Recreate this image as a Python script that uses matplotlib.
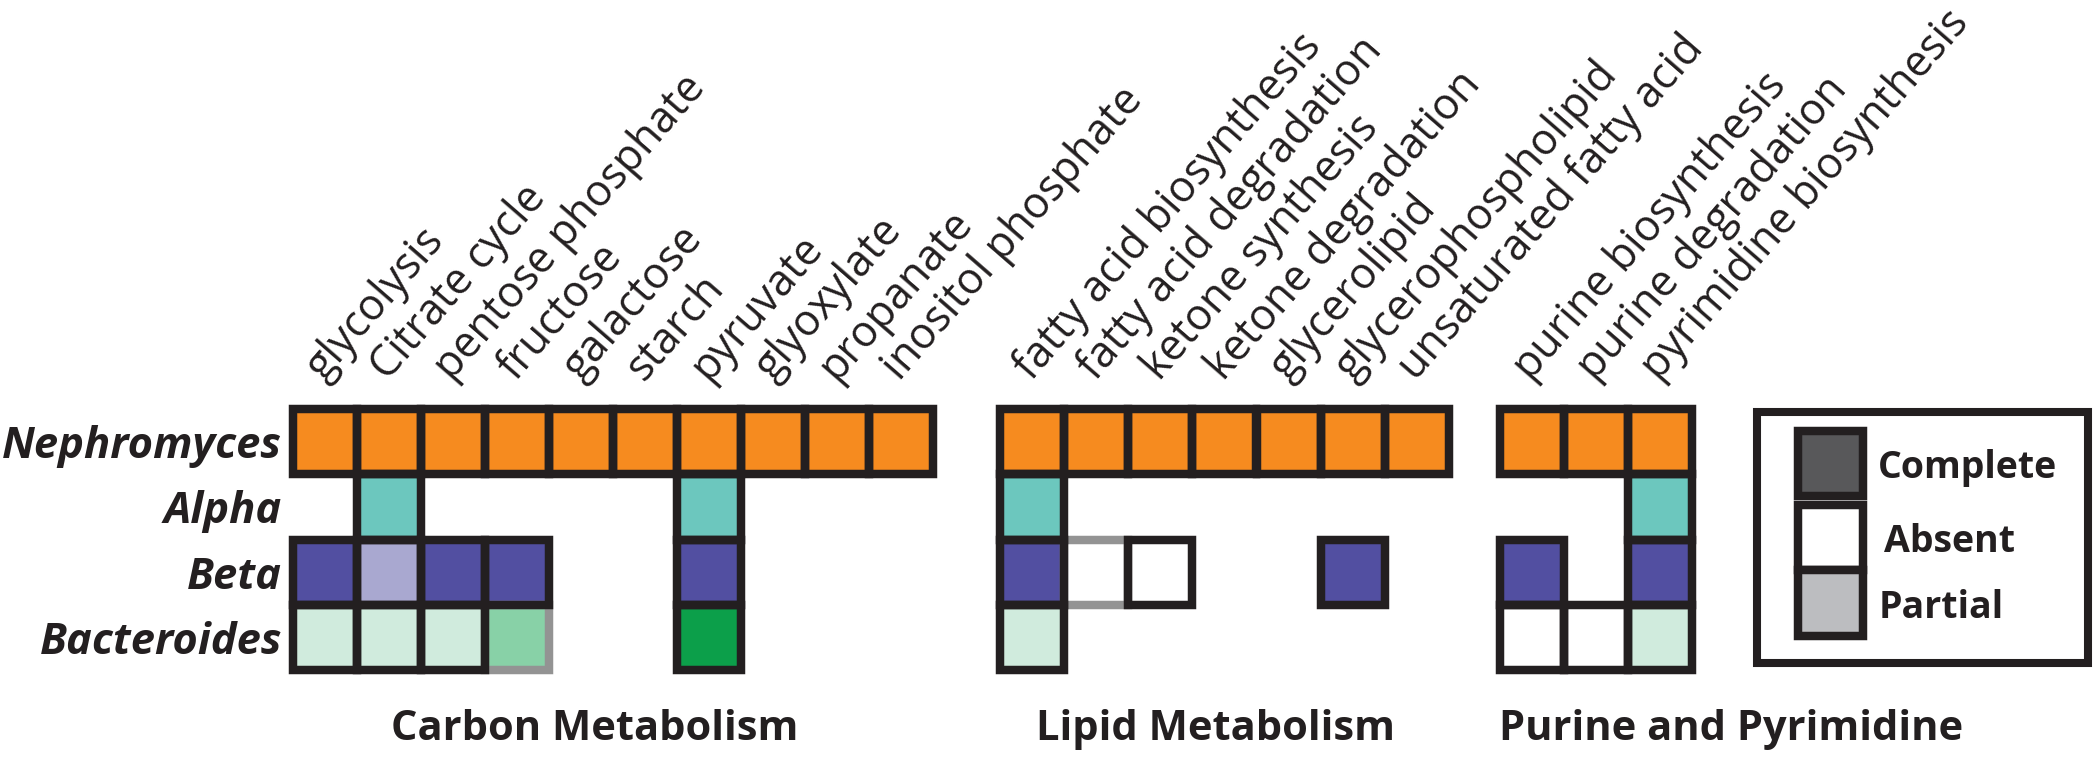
import matplotlib.pyplot as plt
from matplotlib.patches import Rectangle

plt.rcParams['font.family'] = ['Open Sans', 'DejaVu Sans']

organisms = ['Nephromyces', 'Alpha', 'Beta', 'Bacteroides']

carbon_pathways = ['glycolysis', 'Citrate cycle', 'pentose phosphate', 'fructose', 'galactose',
                   'starch', 'pyruvate', 'glyoxylate', 'propanate', 'inositol phosphate']
lipid_pathways = ['fatty acid biosynthesis', 'fatty acid degradation', 'ketone synthesis',
                  'ketone degradation', 'glycerolipid', 'glycerophospholipid', 'unsaturated fatty acid']
nucleo_pathways = ['purine biosynthesis', 'purine degradation', 'pyrimidine biosynthesis']

# one row per organism: C complete, P partial, M intermediate (grey edge),
# G empty box with grey edge, A absent (white box), '' nothing drawn
carbon_status = [
    ['C', 'C', 'C', 'C', 'C', 'C', 'C', 'C', 'C', 'C'],
    ['', 'C', '', '', '', '', 'C', '', '', ''],
    ['C', 'P', 'C', 'C', '', '', 'C', '', '', ''],
    ['P', 'P', 'P', 'M', '', '', 'C', '', '', ''],
]
lipid_status = [
    ['C', 'C', 'C', 'C', 'C', 'C', 'C'],
    ['C', '', '', '', '', '', ''],
    ['C', 'G', 'A', '', '', 'C', ''],
    ['P', '', '', '', '', '', ''],
]
nucleo_status = [
    ['C', 'C', 'C'],
    ['', '', 'C'],
    ['C', '', 'C'],
    ['A', 'A', 'P'],
]

group_titles = ['Carbon Metabolism', 'Lipid Metabolism', 'Purine and Pyrimidine']
legend_labels = ['Complete', 'Absent', 'Partial']
legend_colors = ['#58585a', '#ffffff', '#bcbdc0']

fills = {
    'Nephromyces': {'C': '#f68b1f'},
    'Alpha': {'C': '#6cc7be'},
    'Beta': {'C': '#524fa1', 'P': '#a9a8d0'},
    'Bacteroides': {'C': '#0c9f4a', 'P': '#d0ebdd', 'M': '#88d1a7'},
}
dark = '#231f20'
grey = '#939393'

# layout in pixels
px, py = 64.05, 65.1
top = 409.3
lw = 6.1
groups = [(carbon_pathways, carbon_status, 292.5, 595),
          (lipid_pathways, lipid_status, 1000.3, 1216),
          (nucleo_pathways, nucleo_status, 1500.0, 1731)]

fig = plt.figure(figsize=(21, 7.61), dpi=100)
ax = fig.add_axes([0, 0, 1, 1])
ax.set_xlim(0, 2100)
ax.set_ylim(761, 0)
ax.axis('off')

for g, (paths, status, x0, tx) in enumerate(groups):
    # fills
    for r, org in enumerate(organisms):
        for c, s in enumerate(status[r]):
            if s == '':
                continue
            fc = fills[org].get(s, 'white')
            ax.add_patch(Rectangle((x0 + c * px, top + r * py), px, py, facecolor=fc,
                                   edgecolor='none', zorder=1))
    # grey edges first, dark edges on top
    for pas in ['grey', 'dark']:
        for r, org in enumerate(organisms):
            for c, s in enumerate(status[r]):
                if s == '':
                    continue
                is_grey = s in ('M', 'G')
                if (pas == 'grey') != is_grey:
                    continue
                ax.add_patch(Rectangle((x0 + c * px, top + r * py), px, py, facecolor='none',
                                       edgecolor=grey if is_grey else dark, lw=lw,
                                       joinstyle='miter', zorder=2 if is_grey else 3))
    for c, p in enumerate(paths):
        ax.text(x0 + (c + 0.5) * px - 1, 382, p, rotation=49, rotation_mode='anchor',
                ha='left', va='baseline', fontsize=31, color='#231f20')
    ax.text(tx, 740, group_titles[g], ha='center', va='baseline', fontsize=30,
            fontweight='bold', color='#231f20')

for r, org in enumerate(organisms):
    ax.text(282, top + (r + 0.5) * py, org, ha='right', va='center_baseline', fontsize=31.3,
            fontweight='bold', style='italic', color='#231f20')

# legend
ax.add_patch(Rectangle((1757, 412), 330.5, 251, facecolor='none', edgecolor=dark, lw=5.8,
                       joinstyle='miter'))
sw_y = [431, 505, 570]
sw_h = [65, 65, 66]
text_x = [1878, 1884, 1879]
for i, lab in enumerate(legend_labels):
    ax.add_patch(Rectangle((1798, sw_y[i]), 65, sw_h[i], facecolor=legend_colors[i],
                           edgecolor=dark, lw=lw, joinstyle='miter'))
    ax.text(text_x[i], sw_y[i] + sw_h[i] / 2, lab, ha='left', va='center_baseline',
            fontsize=27, fontweight='bold', color='#231f20')

fig.savefig('out.png', dpi=100)
